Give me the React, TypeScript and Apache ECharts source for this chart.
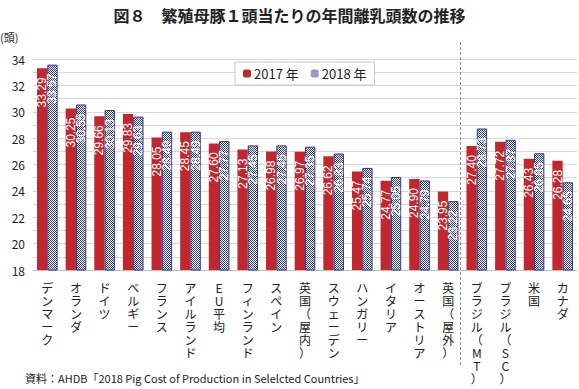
import React, { useEffect, useRef } from "react";
import * as echarts from "echarts";

const categories = [
  "デンマーク", "オランダ", "ドイツ", "ベルギー", "フランス", "アイルランド", "EU平均",
  "フィンランド", "スペイン", "英国（屋内）", "スウェーデン", "ハンガリー", "イタリア",
  "オーストリア", "英国（屋外）", "ブラジル（MT）", "ブラジル（SC）", "米国", "カナダ",
];
const values2017 = [33.29, 30.25, 29.66, 29.83, 28.05, 28.45, 27.60, 27.13, 26.98, 26.97, 26.62, 25.47, 24.77, 24.90, 23.95, 27.40, 27.72, 26.43, 26.28];
const values2018 = [33.57, 30.55, 30.13, 29.63, 28.49, 28.49, 27.77, 27.45, 27.45, 27.35, 26.83, 25.74, 25.05, 24.79, 23.22, 28.73, 27.87, 26.85, 24.65];
const seriesNames = ["2017 年", "2018 年"];
const titleText = "図８　繁殖母豚１頭当たりの年間離乳頭数の推移";
const unitText = "(頭)";
const sourceText = "資料：AHDB「2018 Pig Cost of Production in Selelcted Countries」";
const dividerAfterIndex = 14;

const FONT = "'Noto Sans CJK JP', 'Noto Sans', sans-serif";
const LABEL_FONT = "'Liberation Sans Narrow', 'Liberation Sans', sans-serif";
const RED = "#c1272d";
const NAVY = "#2e3a8a";

function makeChecker(): HTMLCanvasElement {
  const c = document.createElement("canvas");
  c.width = 2;
  c.height = 2;
  const ctx = c.getContext("2d")!;
  ctx.fillStyle = "#ffffff";
  ctx.fillRect(0, 0, 2, 2);
  ctx.fillStyle = NAVY;
  ctx.fillRect(0, 0, 1, 1);
  ctx.fillRect(1, 1, 1, 1);
  return c;
}

export default function App() {
  const ref = useRef<HTMLDivElement>(null);
  useEffect(() => {
    document.body.style.margin = "0";
    const chart = echarts.init(ref.current!, null, { renderer: "svg" });
    const checker = makeChecker();
    const barLabel = {
      show: true,
      position: "insideTop",
      rotate: 90,
      align: "right",
      verticalAlign: "middle",
      distance: 9,
      color: "#fff",
      fontSize: 12,
      fontFamily: LABEL_FONT,
      formatter: (p: any) => Number(p.value).toFixed(2),
    };
    chart.setOption({
      animation: false,
      backgroundColor: "#fff",
      textStyle: { fontFamily: FONT },
      title: {
        text: titleText,
        left: "center",
        top: 2,
        textStyle: { fontSize: 16, fontWeight: "bold", color: "#222", fontFamily: FONT },
      },
      legend: {
        left: 235,
        top: 62,
        itemWidth: 8,
        itemHeight: 8,
        itemGap: 12,
        itemStyle: { borderWidth: 0 },
        padding: [5, 8, 5, 8],
        borderColor: "#c8c8c8",
        borderWidth: 1,
        backgroundColor: "#fff",
        textStyle: { fontSize: 13, color: "#222", fontFamily: FONT, padding: [0, 0, 0, -2] },
        data: seriesNames,
      },
      grid: { left: 33, right: 2, top: 59, bottom: 119, containLabel: false },
      xAxis: {
        type: "category",
        data: categories,
        axisTick: { show: false },
        axisLine: { lineStyle: { color: "#bfbfbf" } },
        axisLabel: {
          interval: 0,
          margin: 11,
          color: "#222",
          fontSize: 12,
          lineHeight: 13,
          verticalAlign: "top",
          fontFamily: FONT,
          formatter: (v: string) => Array.from(v).join("\n"),
        },
      },
      yAxis: {
        type: "value",
        min: 18,
        max: 34,
        interval: 1,
        axisLine: { show: false },
        axisTick: { show: false },
        splitLine: { lineStyle: { color: "#d9d9d9" } },
        axisLabel: {
          color: "#222",
          fontSize: 12,
          margin: 8,
          fontFamily: FONT,
          formatter: (v: number) => (v % 2 === 0 ? String(v) : ""),
        },
      },
      series: [
        {
          name: seriesNames[0],
          type: "bar",
          data: values2017,
          barGap: "0%",
          barCategoryGap: "28%",
          itemStyle: { color: RED },
          label: barLabel,
        },
        {
          name: seriesNames[1],
          type: "bar",
          data: values2018,
          barGap: "0%",
          barCategoryGap: "28%",
          itemStyle: {
            color: { image: checker, repeat: "repeat" },
            borderColor: NAVY,
            borderWidth: 1,
          },
          label: barLabel,
        },
      ],
    });
    const x1 = chart.convertToPixel({ xAxisIndex: 0 }, dividerAfterIndex) as number;
    const x2 = chart.convertToPixel({ xAxisIndex: 0 }, dividerAfterIndex + 1) as number;
    const xd = Math.round((x1 + x2) / 2) - 1.5;
    chart.setOption({
      graphic: [
        {
          type: "line",
          shape: { x1: xd, y1: 42, x2: xd, y2: 366 },
          style: { stroke: "#8c8c8c", lineWidth: 1, lineDash: [3, 2] },
        },
        {
          type: "text",
          left: 0,
          top: 31,
          style: { text: unitText, fill: "#222", font: `11px ${FONT}` },
        },
        {
          type: "text",
          left: 25,
          top: 372,
          style: { text: sourceText, fill: "#222", font: `11px ${FONT}` },
        },
      ],
    });
    return () => chart.dispose();
  }, []);
  return <div ref={ref} style={{ width: 579, height: 389 }} />;
}
